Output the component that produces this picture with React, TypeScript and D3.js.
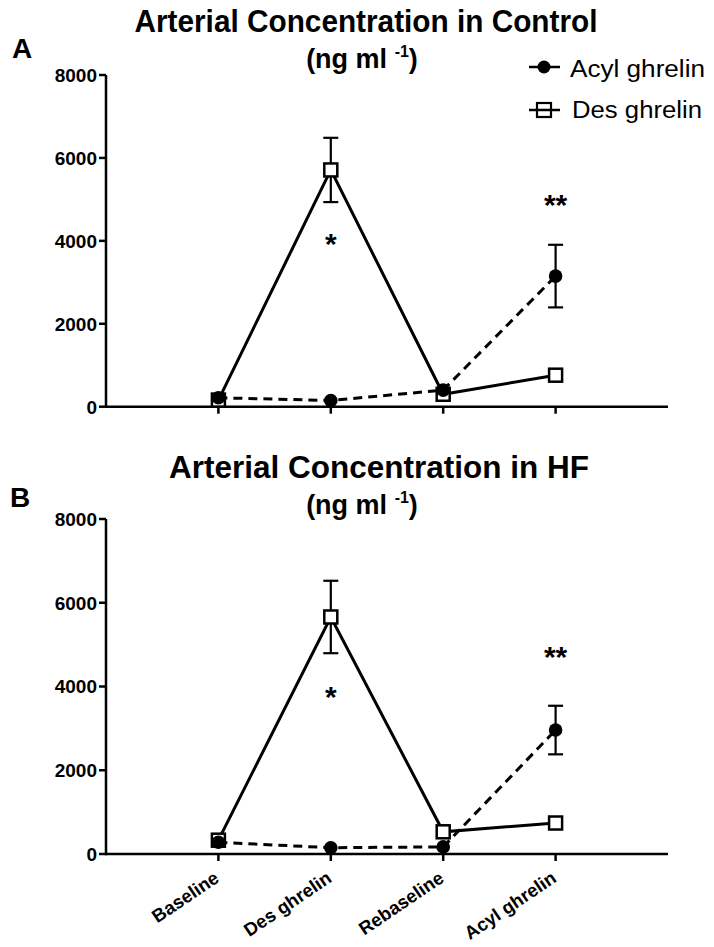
import React from "react";
import * as d3 from "d3";

const categories = ["Baseline", "Des ghrelin", "Rebaseline", "Acyl ghrelin"];
const yTicks = [0, 2000, 4000, 6000, 8000];
const seriesNames = ["Acyl ghrelin", "Des ghrelin"];

// Panel A: Control
const controlDes = [160, 5710, 300, 760];
const controlDesErr = [0, 775, 0, 0];
const controlAcyl = [215, 150, 400, 3150];
const controlAcylErr = [0, 0, 0, 755];
const controlStars = [
  { i: 1, text: "*", v: 4090 },
  { i: 3, text: "**", v: 5030 },
];

// Panel B: HF
const hfDes = [330, 5660, 530, 740];
const hfDesErr = [0, 865, 0, 0];
const hfAcyl = [280, 150, 170, 2960];
const hfAcylErr = [0, 0, 0, 580];
const hfStars = [
  { i: 1, text: "*", v: 3920 },
  { i: 3, text: "**", v: 4870 },
];

const FONT = "'Liberation Sans', Arial, Helvetica, sans-serif";
const X0 = 106;
const X1 = 668;

type PanelProps = {
  top: number;
  bottom: number;
  des: number[];
  desErr: number[];
  acyl: number[];
  acylErr: number[];
  stars: { i: number; text: string; v: number }[];
  showLabels: boolean;
};

function Panel({ top, bottom, des, desErr, acyl, acylErr, stars, showLabels }: PanelProps) {
  const x = d3.scaleLinear().domain([0, categories.length + 1]).range([X0, X1]);
  const y = d3.scaleLinear().domain([0, 8000]).range([bottom, top]);
  const line = d3
    .line<number>()
    .x((_, i) => x(i + 1))
    .y((d) => y(d));

  const errBars = (vals: number[], errs: number[], key: string) =>
    vals.map((v, i) =>
      errs[i] > 0 ? (
        <g key={key + i} stroke="#000" strokeWidth={2.2}>
          <line x1={x(i + 1)} x2={x(i + 1)} y1={y(v - errs[i])} y2={y(v + errs[i])} />
          <line x1={x(i + 1) - 7.5} x2={x(i + 1) + 7.5} y1={y(v + errs[i])} y2={y(v + errs[i])} />
          <line x1={x(i + 1) - 7.5} x2={x(i + 1) + 7.5} y1={y(v - errs[i])} y2={y(v - errs[i])} />
        </g>
      ) : null
    );

  return (
    <g>
      {/* axes */}
      <g stroke="#000" strokeWidth={2.5} fill="none">
        <line x1={X0} x2={X0} y1={y(0) + 1.2} y2={y(8000)} />
        <line x1={X0} x2={X1} y1={y(0)} y2={y(0)} />
        {yTicks.map((t) => (
          <line key={t} x1={X0 - 7} x2={X0} y1={y(t)} y2={y(t)} />
        ))}
        {categories.map((c, i) => (
          <line key={c} x1={x(i + 1)} x2={x(i + 1)} y1={y(0)} y2={y(0) + 7} />
        ))}
      </g>
      {yTicks.map((t) => (
        <text
          key={"l" + t}
          x={X0 - 9}
          y={y(t)}
          dy="0.36em"
          textAnchor="end"
          fontFamily={FONT}
          fontWeight="bold"
          fontSize={19}
        >
          {t}
        </text>
      ))}
      {showLabels &&
        categories.map((c, i) => (
          <text
            key={"x" + c}
            transform={`translate(${x(i + 1) + 2},${y(0) + 27}) rotate(-34)`}
            textAnchor="end"
            fontFamily={FONT}
            fontWeight="bold"
            fontSize={18.5}
          >
            {c}
          </text>
        ))}

      {/* error bars */}
      {errBars(des, desErr, "de")}
      {errBars(acyl, acylErr, "ae")}

      {/* Des ghrelin: solid line, open squares */}
      <path d={line(des) || ""} fill="none" stroke="#000" strokeWidth={3} strokeLinejoin="miter" />
      {des.map((v, i) => (
        <rect
          key={"s" + i}
          x={x(i + 1) - 6.5}
          y={y(v) - 6.5}
          width={13}
          height={13}
          fill="#fff"
          stroke="#000"
          strokeWidth={2.5}
        />
      ))}

      {/* Acyl ghrelin: dashed line, filled circles */}
      <path d={line(acyl) || ""} fill="none" stroke="#000" strokeWidth={3} strokeDasharray="9,6" />
      {acyl.map((v, i) => (
        <circle key={"c" + i} cx={x(i + 1)} cy={y(v)} r={6.8} fill="#000" />
      ))}

      {stars.map((s) => (
        <text
          key={"st" + s.i}
          x={x(s.i + 1)}
          y={y(s.v) + 17}
          textAnchor="middle"
          fontFamily={FONT}
          fontWeight="bold"
          fontSize={30}
        >
          {s.text}
        </text>
      ))}
    </g>
  );
}

function Title({
  text,
  cx,
  y,
  len,
  subY,
  subCx,
}: {
  text: string;
  cx: number;
  y: number;
  len: number;
  subY: number;
  subCx: number;
}) {
  return (
    <g fontFamily={FONT} fontWeight="bold" fill="#000">
      <text x={cx} y={y} textAnchor="middle" fontSize={31} textLength={len} lengthAdjust="spacingAndGlyphs">
        {text}
      </text>
      <text x={subCx} y={subY} textAnchor="middle" fontSize={27}>
        (ng ml <tspan fontSize={16} dy={-11}>-1</tspan>
        <tspan dy={11}>)</tspan>
      </text>
    </g>
  );
}

export default function App() {
  return (
    <svg
      width={714}
      height={947}
      viewBox="0 0 714 947"
      style={{ position: "absolute", left: 0, top: 0, background: "#fff" }}
    >
      <rect x={0} y={0} width={714} height={947} fill="#fff" />
      <Title text="Arterial Concentration in Control" cx={366} y={32} len={463} subY={68} subCx={362} />
      <text x={12} y={58} fontFamily={FONT} fontWeight="bold" fontSize={28}>
        A
      </text>
      <Title text="Arterial Concentration in HF" cx={379} y={478} len={420} subY={514} subCx={362} />
      <text x={10} y={507} fontFamily={FONT} fontWeight="bold" fontSize={28}>
        B
      </text>

      {/* legend */}
      <g>
        <line x1={529} x2={560} y1={67} y2={67} stroke="#000" strokeWidth={2.5} />
        <circle cx={544} cy={67} r={6.5} fill="#000" />
        <text x={570} y={77} fontFamily={FONT} fontSize={23} textLength={135} lengthAdjust="spacingAndGlyphs">
          {seriesNames[0]}
        </text>
        <line x1={529} x2={560} y1={110} y2={110} stroke="#000" strokeWidth={2.5} />
        <rect x={537} y={103} width={14} height={14} fill="none" stroke="#000" strokeWidth={2.2} />
        <text x={572} y={118} fontFamily={FONT} fontSize={23} textLength={130} lengthAdjust="spacingAndGlyphs">
          {seriesNames[1]}
        </text>
      </g>

      <Panel
        top={75}
        bottom={406.7}
        des={controlDes}
        desErr={controlDesErr}
        acyl={controlAcyl}
        acylErr={controlAcylErr}
        stars={controlStars}
        showLabels={false}
      />
      <Panel
        top={519}
        bottom={854}
        des={hfDes}
        desErr={hfDesErr}
        acyl={hfAcyl}
        acylErr={hfAcylErr}
        stars={hfStars}
        showLabels={true}
      />
    </svg>
  );
}
